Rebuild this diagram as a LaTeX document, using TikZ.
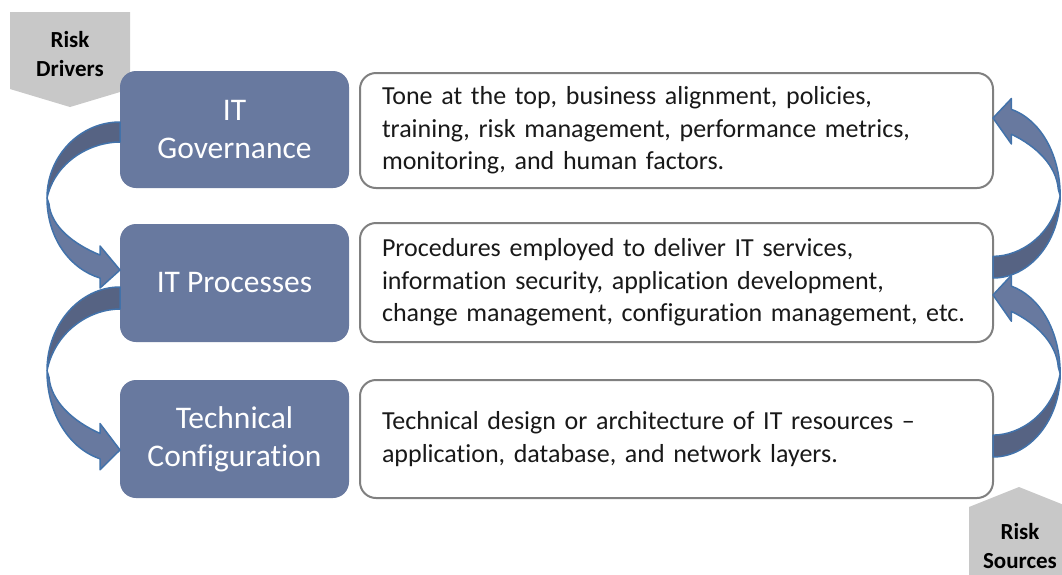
\documentclass[tikz,border=0pt]{standalone}
\usepackage{fontspec}
\setmainfont{Carlito}[Ligatures=NoCommon]
\definecolor{boxblue}{RGB}{104,121,159}
\definecolor{arrdark}{RGB}{86,99,131}
\definecolor{arrline}{RGB}{66,114,170}
\definecolor{tabgrey}{RGB}{200,200,200}
\definecolor{bordergrey}{RGB}{128,128,128}
\definecolor{bodytext}{RGB}{25,25,25}
\newcommand\myarrowshape{%
  \draw[arrback] (0,0) .. controls (-40,0) and (-73,34) .. (-73,76)
     .. controls (-65,40) and (-30,20) .. (0,20) -- cycle;
  \draw[arrfront] (-73,76) .. controls (-73,116) and (-50,147) .. (-20,156)
     -- (-20,166) -- (0,148) -- (-20,124) -- (-20,133)
     .. controls (-47,122) and (-69,104) .. (-71,82) -- cycle;
}
\tikzset{
  lbox/.style={draw=none, fill=boxblue, rounded corners=16pt, minimum width=229pt,
    text=white, align=center, inner sep=0pt, font=\fontsize{31.5}{38}\selectfont},
  rbox/.style={draw=bordergrey, line width=2pt, fill=white, rounded corners=16pt,
    minimum width=633pt, text width=589pt, inner xsep=22pt, inner ysep=0pt,
    align=left, text=bodytext, font=\fontsize{26}{32.5}\selectfont},
  tablabel/.style={align=center, inner sep=0pt, text=black,
    font=\bfseries\fontsize{23}{29}\selectfont},
  tabshape/.style={fill=tabgrey, draw=none},
  arrback/.style={fill=arrdark, draw=arrline, line width=1.5pt, line join=round},
  arrfront/.style={fill=boxblue, draw=arrline, line width=1.5pt, line join=round},
}
\begin{document}
\begin{tikzpicture}[x=1pt, y=-1pt]
\useasboundingbox (0,0) rectangle (1062,574);
\clip (0,0) rectangle (1062,574);
\fill[white] (0,0) rectangle (1062,574);
% grey tabs
\path[tabshape] (10,12) -- (130,12) -- (130,89) -- (70,107) -- (10,89) -- cycle;
\node[tablabel] (drivers) at (70,54) {Risk\\Drivers};
\path[tabshape] (969,580) -- (969,507) -- (1019,487) -- (1069,507) -- (1069,580) -- cycle;
\node[tablabel] (sources) at (1020,546) {Risk\\Sources};
% left boxes
\node[lbox, minimum height=117pt] (gov) at (234.5,129.5) {IT\\Governance};
\node[lbox, minimum height=118pt] (proc) at (234.5,283) {IT Processes};
\node[lbox, minimum height=118pt] (tech) at (234.5,439) {Technical\\Configuration};
% right boxes
\node[rbox, minimum height=115pt] (gdesc) at (676.5,130.5)
  {Tone at the top, business alignment, policies,\\training, risk management, performance metrics,\\monitoring, and human factors.};
\node[rbox, minimum height=119pt] (pdesc) at (676.5,282.5)
  {Procedures employed to deliver IT services,\\information security, application development,\\change management, configuration management, etc.};
\node[rbox, minimum height=118pt] (tdesc) at (676.5,439)
  {Technical design or architecture of IT resources --\\application, database, and network layers.};
% curved arrows
\begin{scope}[shift={(120,122)}]
  \myarrowshape
\end{scope}
\begin{scope}[shift={(120,287)}, yscale=1.101]
  \myarrowshape
\end{scope}
\begin{scope}[shift={(993,278)}, rotate=180, xscale=0.92, yscale=1.081]
  \myarrowshape
\end{scope}
\begin{scope}[shift={(993,457)}, rotate=180, xscale=0.92, yscale=1.095]
  \myarrowshape
\end{scope}
\end{tikzpicture}
\end{document}
